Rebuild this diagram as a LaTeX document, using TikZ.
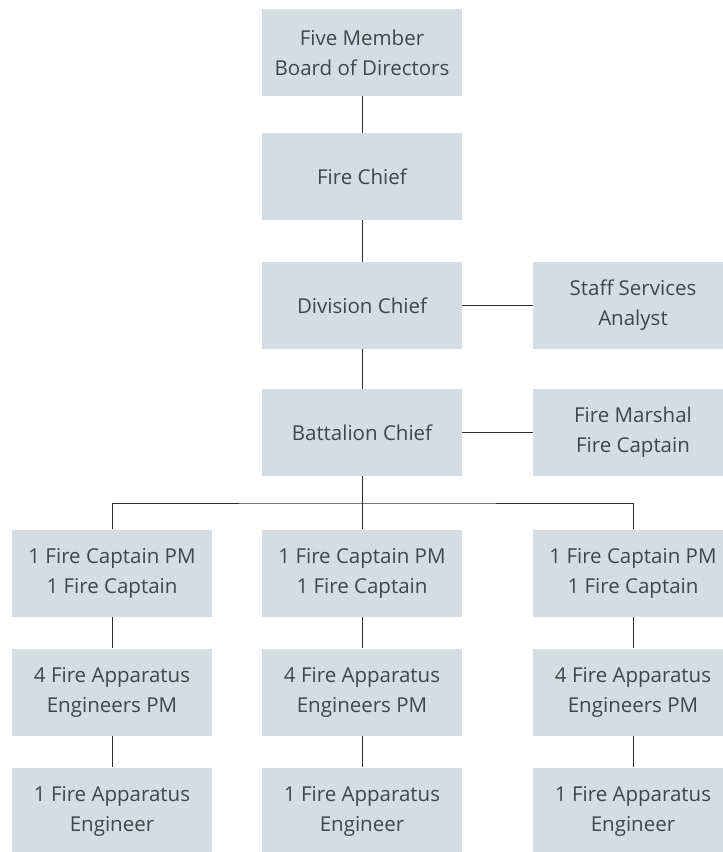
\documentclass[tikz,border=0pt]{standalone}
\usepackage{fontspec}
\setmainfont{Open Sans}
\usetikzlibrary{positioning}
\definecolor{boxgray}{RGB}{214,220,227}
\definecolor{inkgray}{RGB}{66,70,76}
\definecolor{linegray}{RGB}{45,45,45}
\tikzset{
  rolebox/.style={fill=boxgray, text=inkgray, minimum width=200pt, minimum height=87pt,
    inner sep=0pt, align=center, font=\fontsize{20.5}{30}\selectfont},
  link/.style={draw=linegray, line width=1pt}
}

\begin{document}
\begin{tikzpicture}[x=1pt, y=-1pt]
    \useasboundingbox (0,0) rectangle (723,852);
    \clip (0,0) rectangle (723,852);
    % chain of command
    \node[rolebox] (board) at (362,52.5) {Five Member\\Board of Directors};
    \node[rolebox] (chief) at (362,176.5) {Fire Chief};
    \node[rolebox] (division) at (362,305.5) {Division Chief};
    \node[rolebox] (staff) at (633,305.5) {Staff Services\\Analyst};
    \node[rolebox] (battalion) at (362,432.5) {Battalion Chief};
    \node[rolebox] (marshal) at (633,432.5) {Fire Marshal\\Fire Captain};
    \draw[link] (board) -- (chief);
    \draw[link] (chief) -- (division);
    \draw[link] (division) -- (battalion);
    \draw[link] (division) -- (staff);
    \draw[link] (battalion) -- (marshal);
    % three crews
    \foreach \col/\cx in {l/112, m/362, r/633} {
        \node[rolebox] (cap\col) at (\cx,573) {1 Fire Captain PM\\1 Fire Captain};
        \node[rolebox] (eng\col) at (\cx,692) {4 Fire Apparatus\\Engineers PM};
        \node[rolebox] (app\col) at (\cx,811) {1 Fire Apparatus\\Engineer};
        \draw[link] (cap\col) -- (eng\col);
        \draw[link] (eng\col) -- (app\col);
    }
    % bus line
    \coordinate (bus) at (362,503);
    \draw[link] (battalion) -- (bus);
    \draw[link] (capl) |- (bus) -| (capr);
    \draw[link] (bus) -- (capm);
\end{tikzpicture}
\end{document}
